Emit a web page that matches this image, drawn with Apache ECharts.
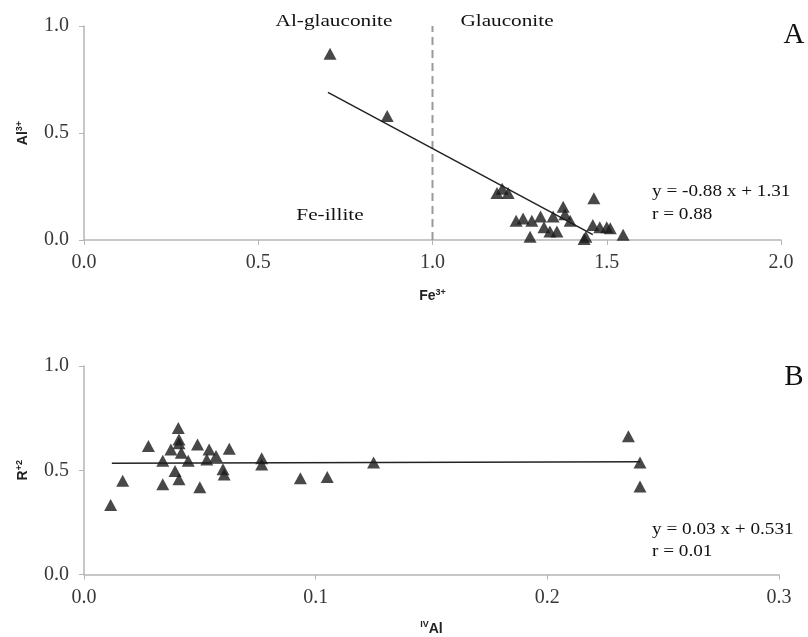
<!DOCTYPE html>
<html><head><meta charset="utf-8">
<script src="https://cdn.jsdelivr.net/npm/echarts@6/dist/echarts.min.js"></script>
<style>html,body{margin:0;padding:0;background:#fff}#c{width:808px;height:637px}</style>
</head><body><div id="c"></div>
<script>
// Panel A: Fe3+ vs Al3+
const feA = [0.706,0.87,1.185,1.20,1.217,1.463,1.24,1.26,1.285,1.31,1.28,1.32,1.337,1.357,1.346,1.375,1.38,1.395,1.44,1.435,1.46,1.48,1.50,1.51,1.547];
const alA = [0.87,0.58,0.22,0.24,0.22,0.195,0.09,0.10,0.09,0.11,0.015,0.06,0.04,0.04,0.11,0.155,0.12,0.09,0.015,0.005,0.07,0.06,0.06,0.055,0.025];
const fitA = [[0.70,0.69],[1.46,0.025]];
const divider = [[1.0,0.0],[1.0,1.0]];
// Panel B: IV Al vs R2+
const ivAl = [0.0115,0.0167,0.0278,0.034,0.034,0.0375,0.0407,0.041,0.041,0.0393,0.041,0.042,0.045,0.049,0.050,0.053,0.054,0.057,0.060,0.0605,0.0627,0.0767,0.0767,0.0934,0.105,0.125,0.235,0.240,0.240];
const r2 = [0.333,0.45,0.616,0.545,0.433,0.60,0.703,0.648,0.63,0.497,0.457,0.584,0.545,0.624,0.418,0.552,0.60,0.568,0.505,0.48,0.603,0.557,0.528,0.462,0.468,0.537,0.663,0.537,0.422];
const fitB = [[0.012,0.534],[0.24,0.541]];
const xTicksA = [0, 2, 0.5];
const xTicksB = [0, 0.3, 0.1];
const yTicks = [0, 1, 0.5];

const pts = (xs, ys) => xs.map((v, i) => [v, ys[i]]);
const serif = '"Liberation Serif","Times New Roman",serif';
const tickLbl = {fontFamily: serif, fontSize: 20, color: '#383838'};
const axLine = {lineStyle: {color: '#b5b5b5', width: 1.5}};
const nameRich = {
  b: {fontFamily: 'Liberation Sans, Arial', fontWeight: 'bold', fontSize: 14, color: '#222'},
  s: {fontFamily: 'Liberation Sans, Arial', fontWeight: 'bold', fontSize: 9, color: '#222', padding: [0,0,8,0]}
};
const tri = {type: 'scatter', symbol: 'triangle', symbolSize: [13, 12], itemStyle: {color: '#1a1a1a'}, z: 3};

function xAx(idx, t, name, gap) {
  return {gridIndex: idx, type: 'value', min: t[0], max: t[1], interval: t[2],
    axisLine: axLine, axisTick: {show: true, length: 5, lineStyle: {color: '#b5b5b5'}},
    splitLine: {show: false}, axisLabel: Object.assign({margin: 13, formatter: v => v.toFixed(1)}, tickLbl),
    name: name, nameLocation: 'middle', nameGap: gap, nameTextStyle: {rich: nameRich}};
}
function yAx(idx, name) {
  return {gridIndex: idx, type: 'value', min: yTicks[0], max: yTicks[1], interval: yTicks[2],
    axisLine: Object.assign({show: true}, axLine), axisTick: {show: true, length: 5, lineStyle: {color: '#b5b5b5'}},
    splitLine: {show: false}, axisLabel: Object.assign({margin: 15, formatter: v => v.toFixed(1)}, tickLbl),
    name: name, nameLocation: 'middle', nameGap: 52, nameRotate: 90, nameTextStyle: {rich: nameRich}};
}
function txt(s, x, y, size, align, sx) {
  return {type: 'text', x: x, y: y, scaleX: sx || 1,
    style: {text: s, font: size + 'px ' + serif, fill: '#111', align: align || 'center', verticalAlign: 'middle'}};
}

const chart = echarts.init(document.getElementById('c'));
chart.setOption({
  animation: false,
  grid: [
    {left: 84, width: 697, top: 26, height: 214},
    {left: 84, width: 695, top: 366, height: 210}
  ],
  xAxis: [xAx(0, xTicksA, '{b|Fe}{s|3+}', 48), xAx(1, xTicksB, '{s|IV}{b|Al}', 46)],
  yAxis: [yAx(0, '{b|Al}{s|3+}'), yAx(1, '{b|R}{s|+2}')],
  series: [
    {type: 'line', xAxisIndex: 0, yAxisIndex: 0, data: divider, symbol: 'none',
      lineStyle: {color: '#9a9a9a', width: 2, type: [8, 5]}, z: 1},
    {type: 'line', xAxisIndex: 0, yAxisIndex: 0, data: fitA, symbol: 'none',
      lineStyle: {color: '#222', width: 1.5}, z: 2},
    Object.assign({xAxisIndex: 0, yAxisIndex: 0, data: pts(feA, alA)}, tri),
    {type: 'line', xAxisIndex: 1, yAxisIndex: 1, data: fitB, symbol: 'none',
      lineStyle: {color: '#222', width: 1.5}, z: 2},
    Object.assign({xAxisIndex: 1, yAxisIndex: 1, data: pts(ivAl, r2)}, tri)
  ],
  graphic: [
    txt('Al-glauconite', 334, 22, 17, 'center', 1.25),
    txt('Glauconite', 507, 22, 17, 'center', 1.25),
    txt('Fe-illite', 330, 216, 17, 'center', 1.25),
    txt('A', 794, 35, 29, 'center'),
    txt('y = -0.88 x + 1.31', 652, 192, 16, 'left', 1.2),
    txt('r = 0.88', 652, 215, 16, 'left', 1.2),
    txt('B', 794, 377, 29, 'center'),
    txt('y = 0.03 x + 0.531', 652, 530, 16, 'left', 1.2),
    txt('r = 0.01', 652, 552, 16, 'left', 1.2)
  ]
});
</script></body></html>
